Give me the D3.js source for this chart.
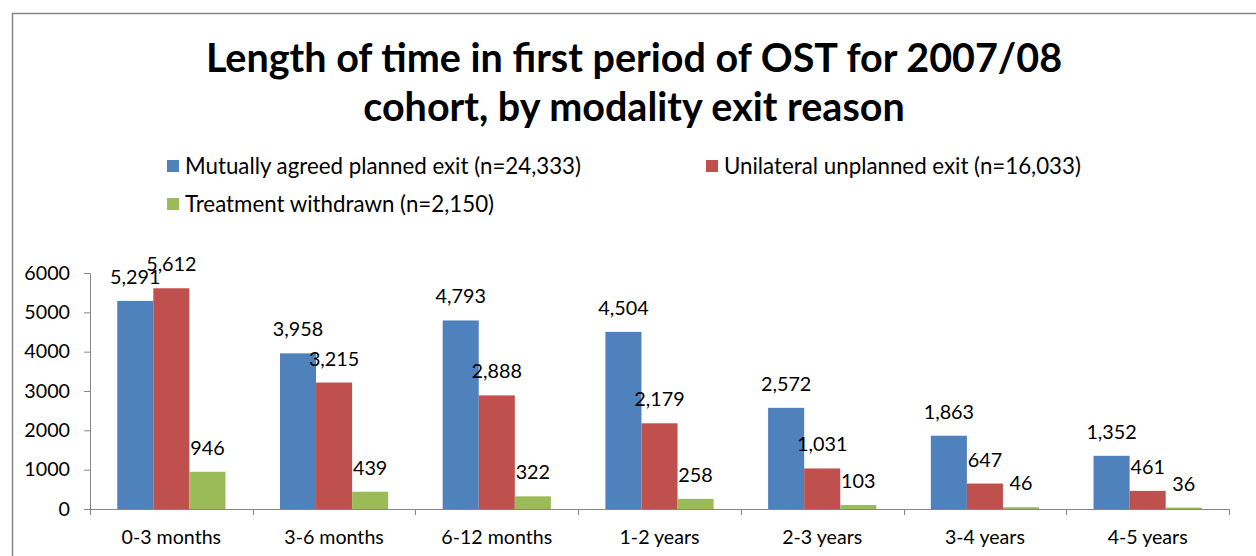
<!DOCTYPE html>
<html>
<head>
<meta charset="utf-8">
<script src="https://cdn.jsdelivr.net/npm/d3@7"></script>
<style>
  body { margin: 0; background: #fff; }
  svg { display: block; font-family: Lato, "Open Sans", sans-serif; }
</style>
</head>
<body>
<svg id="chart" width="1256" height="556"></svg>
<script>
// chart data
const categories = ["0-3 months", "3-6 months", "6-12 months", "1-2 years", "2-3 years", "3-4 years", "4-5 years"];
const seriesNames = [
  "Mutually agreed planned exit (n=24,333)",
  "Unilateral unplanned exit (n=16,033)",
  "Treatment withdrawn (n=2,150)"
];
const agreedValues = [5291, 3958, 4793, 4504, 2572, 1863, 1352];
const unplannedValues = [5612, 3215, 2888, 2179, 1031, 647, 461];
const withdrawnValues = [946, 439, 322, 258, 103, 46, 36];
const yTicks = [0, 1000, 2000, 3000, 4000, 5000, 6000];
const colors = ["#4F81BD", "#C0504D", "#9BBB59"];

const svg = d3.select("#chart");

// outer chart border
svg.append("rect")
  .attr("x", 12.5).attr("y", 13.5)
  .attr("width", 1300).attr("height", 600)
  .attr("fill", "none")
  .attr("stroke", "#868686")
  .attr("stroke-width", 1.5);

// title
const title = svg.append("text")
  .attr("text-anchor", "middle")
  .attr("font-weight", "bold")
  .attr("font-size", 39.5)
  .attr("fill", "#000");
title.append("tspan").attr("x", 634).attr("y", 72).text("Length of time in first period of OST for 2007/08");
title.append("tspan").attr("x", 634).attr("y", 121).text("cohort, by modality exit reason");

// legend
const legendPos = [[167, 160], [706, 160], [167, 198]];
const legend = svg.append("g");
seriesNames.forEach((name, i) => {
  const g = legend.append("g").attr("transform", `translate(${legendPos[i][0]},${legendPos[i][1]})`);
  g.append("rect").attr("width", 12).attr("height", 12).attr("fill", colors[i]);
  g.append("text").attr("x", 18).attr("y", 14).attr("font-size", 22.3).attr("fill", "#000").text(name);
});

// plot area
const margin = {left: 90, right: 1229, top: 273, bottom: 509};

const x0 = d3.scaleBand()
  .domain(categories)
  .range([margin.left, margin.right])
  .paddingInner(0.335)
  .paddingOuter(0.1675);

const x1 = d3.scaleBand()
  .domain(d3.range(3))
  .range([0, x0.bandwidth()]);

const y = d3.scaleLinear()
  .domain([0, 6000])
  .range([margin.bottom, margin.top]);

const data = categories.map((c, i) => ({
  cat: c,
  vals: [agreedValues[i], unplannedValues[i], withdrawnValues[i]]
}));

// y axis
const yAxis = svg.append("g")
  .attr("transform", `translate(${margin.left},0)`)
  .call(d3.axisLeft(y).tickValues(yTicks).tickSize(6).tickPadding(14).tickFormat(d3.format("d")));
yAxis.select(".domain").attr("stroke", "#868686");
yAxis.selectAll(".tick line").attr("stroke", "#868686");
yAxis.selectAll(".tick text").attr("font-size", 19.7).attr("fill", "#000").attr("font-family", "Lato, sans-serif");

// bars
const groups = svg.append("g").selectAll("g")
  .data(data)
  .join("g")
  .attr("transform", d => `translate(${x0(d.cat)},0)`);

groups.selectAll("rect")
  .data(d => d.vals.map((v, i) => ({v, i})))
  .join("rect")
  .attr("x", d => x1(d.i))
  .attr("y", d => y(d.v))
  .attr("width", x1.bandwidth())
  .attr("height", d => y(0) - y(d.v))
  .attr("fill", d => colors[d.i]);

groups.selectAll("text")
  .data(d => d.vals.map((v, i) => ({v, i})))
  .join("text")
  .attr("x", d => x1(d.i) + x1.bandwidth() / 2)
  .attr("y", d => y(d.v) - 17)
  .attr("text-anchor", "middle")
  .attr("font-size", 19.8)
  .attr("fill", "#000")
  .text(d => d3.format(",")(d.v));

// x axis
const boundaries = d3.range(categories.length + 1).map(i => margin.left + i * (margin.right - margin.left) / categories.length);
const xAxis = svg.append("g");
xAxis.append("line")
  .attr("x1", margin.left).attr("x2", margin.right)
  .attr("y1", margin.bottom + 0.5).attr("y2", margin.bottom + 0.5)
  .attr("stroke", "#868686");
xAxis.selectAll("line.tick")
  .data(boundaries)
  .join("line")
  .attr("class", "tick")
  .attr("x1", d => Math.round(d) + 0.5).attr("x2", d => Math.round(d) + 0.5)
  .attr("y1", margin.bottom).attr("y2", margin.bottom + 6)
  .attr("stroke", "#868686");
xAxis.selectAll("text")
  .data(categories)
  .join("text")
  .attr("x", d => x0(d) + x0.bandwidth() / 2)
  .attr("y", 544)
  .attr("text-anchor", "middle")
  .attr("font-size", 19.6)
  .attr("fill", "#000")
  .text(d => d);
</script>
</body>
</html>
